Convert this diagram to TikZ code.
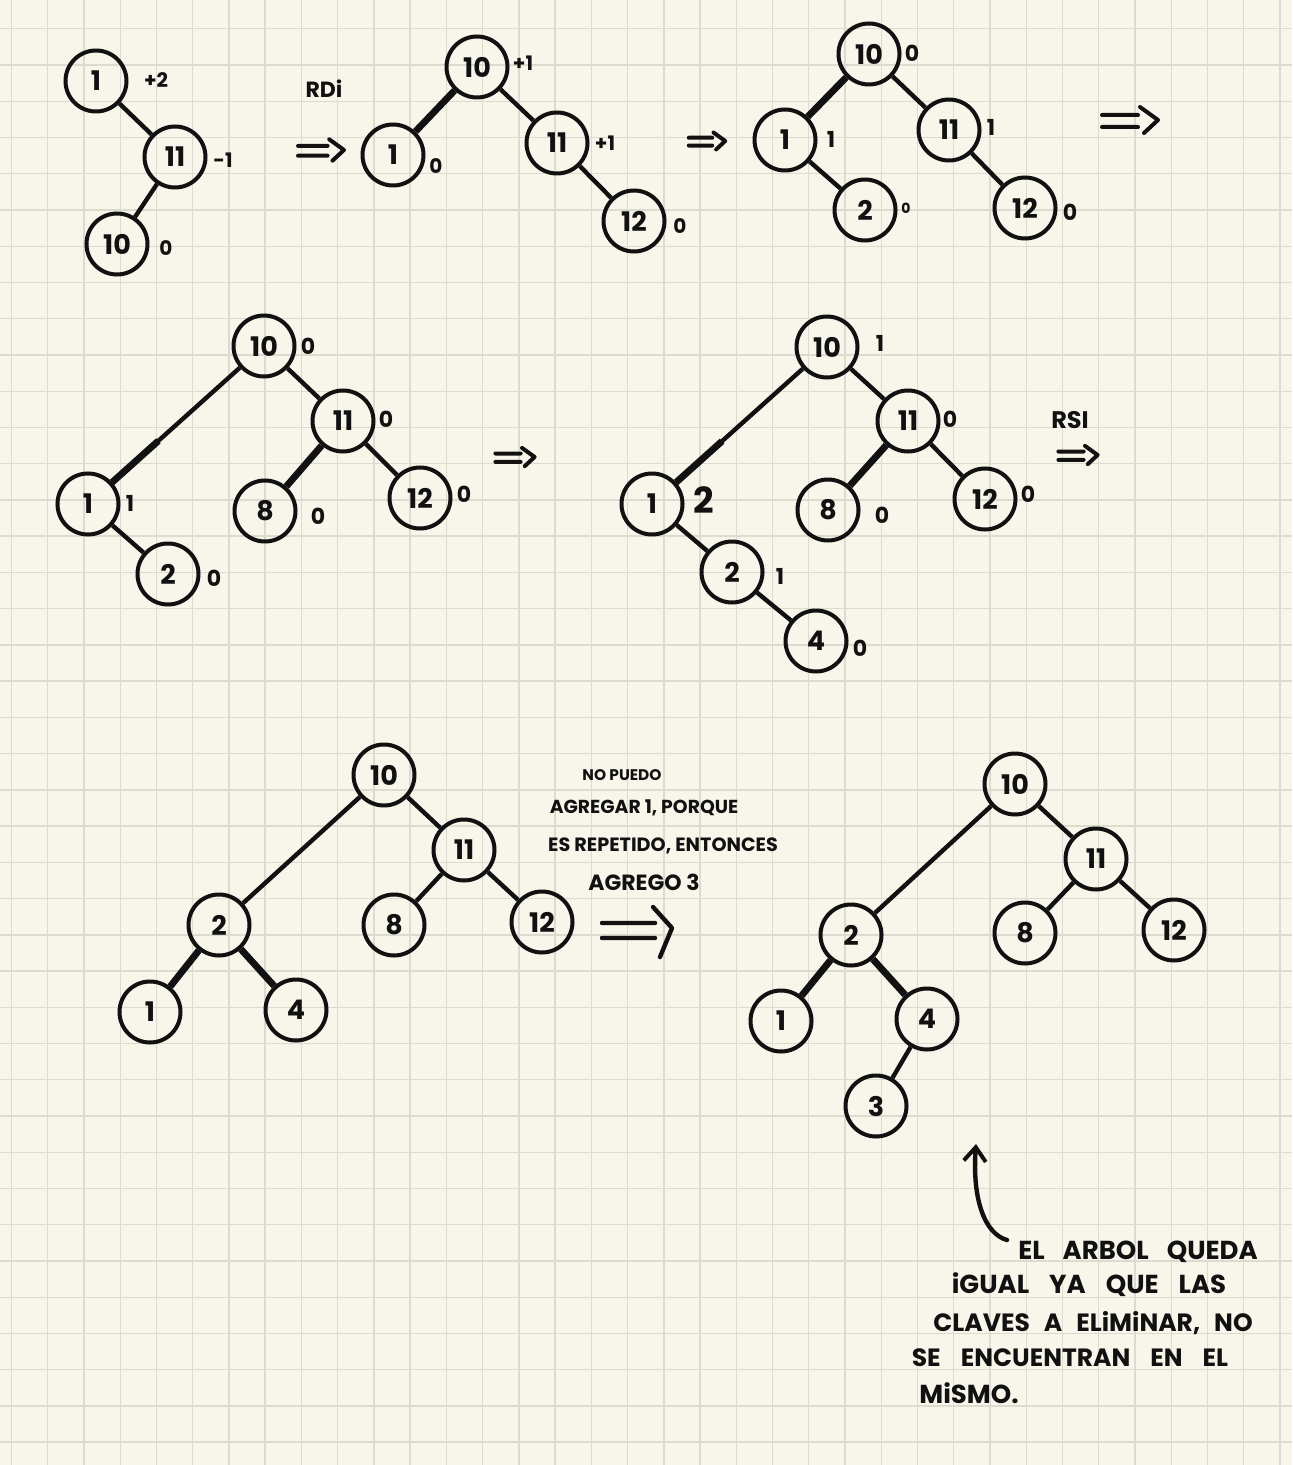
\documentclass[tikz,border=0pt]{standalone}
\usepackage{fontspec}
\setmainfont{Poppins}
\usetikzlibrary{arrows.meta,calc}
\definecolor{paper}{HTML}{F8F6EA}
\definecolor{gridc}{HTML}{DCDBD0}
\definecolor{ink}{HTML}{111111}
\newcommand\wsp[1]{\spaceskip=#1\relax}
\begin{document}
\begin{tikzpicture}[x=0.5pt,y=-0.5pt,
  tn/.style={circle,draw=ink,line width=2pt,minimum size=30.5pt,inner sep=0pt,text=ink,font=\fontsize{13.5}{16}\selectfont\bfseries},
  ed/.style={draw=ink,line width=2.2pt},
  thk/.style={draw=ink,line width=3.4pt},
  lb/.style={inner sep=0pt,text=ink,font=\fontsize{11}{13}\selectfont\bfseries},
  lbs/.style={inner sep=0pt,text=ink,font=\fontsize{10}{12}\selectfont\bfseries},
  note/.style={inner sep=0pt,text=ink},
  dblarrow/.pic={\draw[ink,line width=2pt,line cap=round,line join=round]
     (-28,-5) -- (8,-5) (-28,7) -- (8,7) (10,-13) -- (28,0) -- (14,13);}
]
\useasboundingbox (0,0) rectangle (1292,1465);
\fill[paper] (0,0) rectangle (1292,1465);
\foreach \i in {0,...,35} \draw[gridc,line width=0.7pt] (11.5+36.24*\i,0) -- (11.5+36.24*\i,1465);
\foreach \j in {0,...,39} \draw[gridc,line width=0.7pt] (0,28.8+36.24*\j) -- (1292,28.8+36.24*\j);

% ---------- Tree A ----------
\node[tn] (A1) at (96,81) {1};
\node[tn] (A11) at (175,157) {11};
\node[tn] (A10) at (117,244) {10};
\draw[ed] (A1) -- (A11);
\draw[ed] (A11) -- (A10);
\node[lbs] (lA1) at (156,80) {+2};
\node[lbs] (lA11) at (223,160) {-1};
\node[lbs] (lA10) at (166,248) {0};

% RDI arrow
\node[note,font=\fontsize{11}{13}\selectfont\bfseries] (rdi) at (324,89) {RDi};
\pic[scale=0.82] at (321,150) {dblarrow};

% ---------- Tree B ----------
\node[tn] (B10) at (477,67) {10};
\node[tn] (B1) at (393,155) {1};
\node[tn] (B11) at (557,143) {11};
\node[tn] (B12) at (634,221) {12};
\draw[thk] (B10) -- (B1);
\draw[ed] (B10) -- (B11);
\draw[ed] (B11) -- (B12);
\node[lbs] (lB10) at (523,63) {+1};
\node[lbs] (lB1) at (436,166) {0};
\node[lbs] (lB11) at (605,143) {+1};
\node[lbs] (lB12) at (680,226) {0};

\pic[scale=0.65] at (707,141) {dblarrow};

% ---------- Tree C ----------
\node[tn] (C10) at (869,54) {10};
\node[tn] (C1) at (785,140) {1};
\node[tn] (C11) at (949,130) {11};
\node[tn] (C2) at (865,210) {2};
\node[tn] (C12) at (1025,208) {12};
\draw[thk] (C10) -- (C1);
\draw[ed] (C10) -- (C11);
\draw[ed] (C1) -- (C2);
\draw[ed] (C11) -- (C12);
\node[lb] (lC10) at (912,53) {0};
\node[lb] (lC1) at (831,139) {1};
\node[lb] (lC11) at (991,127) {1};
\node[inner sep=0pt,text=ink,font=\fontsize{7}{8}\selectfont\bfseries] (lC2) at (906,208) {0};
\node[lb] (lC12) at (1070,212) {0};

\pic at (1130,120) {dblarrow};

% ---------- Tree D ----------
\node[tn] (D10) at (264,346) {10};
\node[tn] (D11) at (343,421) {11};
\node[tn] (D1) at (88,504) {1};
\node[tn] (D8) at (265,511) {8};
\node[tn] (D12) at (420,498) {12};
\node[tn] (D2) at (168,574) {2};
\draw[ed] (D10) -- (D1);
\draw[thk] (D1) -- ($(D1)!0.4!(D10)$);
\draw[ed] (D10) -- (D11);
\draw[thk] (D11) -- (D8);
\draw[ed] (D11) -- (D12);
\draw[ed] (D1) -- (D2);
\node[lb] (lD10) at (308,346) {0};
\node[lb] (lD11) at (386,419) {0};
\node[lb] (lD1) at (130,503) {1};
\node[lb] (lD8) at (318,516) {0};
\node[lb] (lD12) at (464,494) {0};
\node[lb] (lD2) at (214,578) {0};

\pic[scale=0.7] at (515,457) {dblarrow};

% ---------- Tree E ----------
\node[tn] (E10) at (827,347) {10};
\node[tn] (E11) at (908,421) {11};
\node[tn] (E1) at (652,504) {1};
\node[tn] (E8) at (828,510) {8};
\node[tn] (E12) at (985,499) {12};
\node[tn] (E2) at (732,572) {2};
\node[tn] (E4) at (816,641) {4};
\draw[ed] (E10) -- (E1);
\draw[thk] (E1) -- ($(E1)!0.4!(E10)$);
\draw[ed] (E10) -- (E11);
\draw[thk] (E11) -- (E8);
\draw[ed] (E11) -- (E12);
\draw[ed] (E1) -- (E2);
\draw[ed] (E2) -- (E4);
\node[lb] (lE10) at (880,343) {1};
\node[lb] (lE11) at (950,419) {0};
\node[inner sep=0pt,text=ink,font=\fontsize{18}{21}\selectfont\bfseries] (lE1) at (704,500) {2};
\node[lb] (lE8) at (882,515) {0};
\node[lb] (lE12) at (1028,494) {0};
\node[lb] (lE2) at (780,576) {1};
\node[lb] (lE4) at (860,648) {0};

\node[note,font=\fontsize{12}{14}\selectfont\bfseries] (rsi) at (1070,420) {RSI};
\pic[scale=0.7] at (1078,455) {dblarrow};

% ---------- Tree F ----------
\node[tn] (F10) at (384,775) {10};
\node[tn] (F11) at (464,850) {11};
\node[tn] (F2) at (219,925) {2};
\node[tn] (F8) at (394,925) {8};
\node[tn] (F12) at (542,922) {12};
\node[tn] (F1) at (150,1012) {1};
\node[tn] (F4) at (296,1010) {4};
\draw[ed] (F10) -- (F2);
\draw[ed] (F10) -- (F11);
\draw[ed] (F11) -- (F8);
\draw[ed] (F11) -- (F12);
\draw[thk] (F2) -- (F1);
\draw[thk] (F2) -- (F4);

% note in the middle
\node[note,font=\fontsize{7.7}{9}\selectfont\bfseries] (t1) at (622,775) {NO PUEDO};
\node[note,font=\fontsize{9.4}{11}\selectfont\bfseries] (t2) at (644,808) {AGREGAR 1, PORQUE};
\node[note,font=\fontsize{9.6}{11}\selectfont\bfseries] (t3) at (663,846) {ES REPETIDO, ENTONCES};
\node[note,font=\fontsize{11}{13}\selectfont\bfseries] (t4) at (644,882) {AGREGO 3};

\draw[ink,line width=2.2pt,line cap=round,line join=round]
  (602,923) -- (655,923) (602,938) -- (655,938) (653,907) -- (672,928) -- (660,957);

% ---------- Tree G ----------
\node[tn] (G10) at (1015,784) {10};
\node[tn] (G11) at (1096,859) {11};
\node[tn] (G2) at (851,935) {2};
\node[tn] (G8) at (1025,933) {8};
\node[tn] (G12) at (1174,930) {12};
\node[tn] (G1) at (781,1021) {1};
\node[tn] (G4) at (927,1019) {4};
\node[tn] (G3) at (876,1106) {3};
\draw[ed] (G10) -- (G2);
\draw[ed] (G10) -- (G11);
\draw[ed] (G11) -- (G8);
\draw[ed] (G11) -- (G12);
\draw[thk] (G2) -- (G1);
\draw[thk] (G2) -- (G4);
\draw[ed] (G4) -- (G3);

% bottom note and arrow
\coordinate (arS) at (1007,1240);
\coordinate (arE) at (976,1144);
\draw[ink,line width=2.2pt,line cap=round,-{Straight Barb[length=7pt,width=11pt,line width=2pt]}]
  (arS) .. controls (985,1234) and (972,1200) .. (arE);
\node[note,font=\fontsize{13}{15}\selectfont\bfseries] (b1) at (1138,1252) {\wsp{9pt}EL ARBOL QUEDA};
\node[note,font=\fontsize{13}{15}\selectfont\bfseries] (b2) at (1089,1285) {\wsp{10pt}iGUAL YA QUE LAS};
\node[note,font=\fontsize{12.5}{15}\selectfont\bfseries] (b3) at (1093,1323) {\wsp{7pt}CLAVES A ELiMiNAR, NO};
\node[note,font=\fontsize{12.5}{15}\selectfont\bfseries] (b4) at (1070,1358) {\wsp{10pt}SE ENCUENTRAN EN EL};
\node[note,font=\fontsize{13}{15}\selectfont\bfseries] (b5) at (969,1393) {MiSMO.};
\end{tikzpicture}
\end{document}
